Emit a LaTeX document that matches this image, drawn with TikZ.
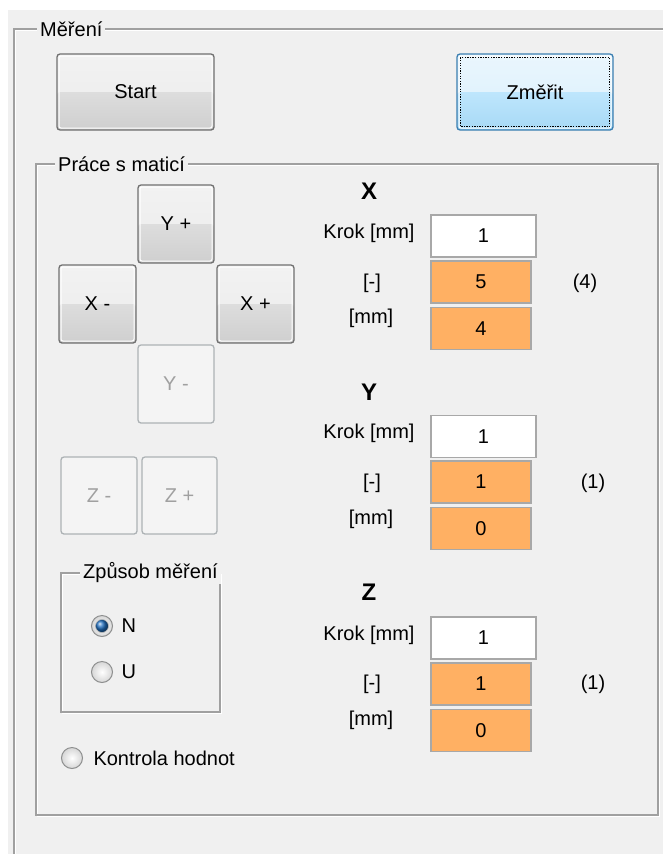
\documentclass[tikz,border=0pt]{standalone}
\usepackage{fontspec}
\setmainfont{Liberation Sans}
\usetikzlibrary{calc}
\definecolor{bg}{HTML}{F0F0F0}
\definecolor{etch}{HTML}{A0A0A0}
\definecolor{btnborder}{HTML}{707070}
\definecolor{disborder}{HTML}{ADB2B5}
\definecolor{distext}{HTML}{A0A0A0}
\definecolor{blueborder}{HTML}{3C7FB1}
\definecolor{fieldborder}{HTML}{A8A8A8}
\definecolor{orangefill}{HTML}{FFB063}
\definecolor{radioborder}{HTML}{8E8F8F}
\definecolor{radioblue}{HTML}{1F6FC0}
\definecolor{F4F4F4}{HTML}{F4F4F4}
\definecolor{D6D6D6}{HTML}{D6D6D6}
\definecolor{F2F2F2}{HTML}{F2F2F2}
\definecolor{EBEBEB}{HTML}{EBEBEB}
\definecolor{DDDDDD}{HTML}{DDDDDD}
\definecolor{CFCFCF}{HTML}{CFCFCF}
\definecolor{EAF6FD}{HTML}{EAF6FD}
\definecolor{D9F0FC}{HTML}{D9F0FC}
\definecolor{BEE6FD}{HTML}{BEE6FD}
\definecolor{A7D9F5}{HTML}{A7D9F5}
\tikzset{
  twotone/.style n args={4}{path picture={
    \shade[top color=#1,bottom color=#2] (path picture bounding box.north west) rectangle (path picture bounding box.east);
    \shade[top color=#3,bottom color=#4] (path picture bounding box.west) rectangle (path picture bounding box.south east);
    \draw[white,line width=1pt,rounded corners=2pt] ([shift={(2pt,-2pt)}]path picture bounding box.north west) rectangle ([shift={(-2pt,2pt)}]path picture bounding box.south east);
  }},
  btnbase/.style={rounded corners=3pt, line width=1.3pt, inner sep=0pt},
  btnon/.style={btnbase, draw=btnborder, twotone={F2F2F2}{EBEBEB}{DDDDDD}{CFCFCF}},
  btnblue/.style={btnbase, draw=blueborder, twotone={EAF6FD}{D9F0FC}{BEE6FD}{A7D9F5}},
  btnoff/.style={btnbase, draw=disborder, fill=F4F4F4, text=distext},
  field/.style={draw=fieldborder, line width=1.6pt, inner sep=0pt},
  wfield/.style={field, fill=white, minimum width=105pt, minimum height=42pt},
  ofield/.style={field, fill=orangefill, minimum width=100pt, minimum height=42pt},
  grplabel/.style={fill=bg, inner xsep=3pt, inner ysep=1pt, anchor=west},
  etchline/.style={draw=etch, line width=1.5pt},
  etchhi/.style={draw=white, line width=1pt},
  radio/.style={circle, draw=radioborder, line width=1pt, minimum size=21pt, inner sep=0pt, shade, inner color=white, outer color=D6D6D6},
  head/.style={font=\fontsize{24}{28}\selectfont\bfseries},
}
\begin{document}
\begin{tikzpicture}[x=1pt,y=-1pt,font=\fontsize{20}{24}\selectfont]
\useasboundingbox (0,0) rectangle (663,854);
\fill[white] (0,0) rectangle (663,854);
\fill[bg] (8,10) rectangle (663,854);

% outer group "Měření"
\draw[etchhi] (15.5,854) -- (15.5,30.5) -- (663,30.5);
\draw[etchline] (14,854) -- (14,29) -- (663,29);
\node[grplabel] (gMereni) at (37,29) {Měření};

% buttons Start / Změřit
\node[btnon, minimum width=157pt, minimum height=76pt] (bStart) at (135.5,92) {Start};
\node[btnblue, minimum width=156pt, minimum height=76pt] (bZmerit) at (535,92) {Změřit};
\draw[black, line width=1.3pt, dash pattern=on 1.3pt off 1.3pt]
  ([shift={(4pt,-4pt)}]bZmerit.north west) rectangle ([shift={(-4pt,4pt)}]bZmerit.south east);

% group "Práce s maticí"
\draw[etchhi] (37.5,165.5) rectangle (659.5,816.5);
\draw[etchline] (36,164) rectangle (658,815);
\node[grplabel] (gPrace) at (55,164) {Práce s maticí};

% direction buttons
\node[btnon, minimum width=76pt, minimum height=78pt] (bYp) at (176,224) {Y +};
\node[btnon, minimum width=77pt, minimum height=78pt] (bXm) at (97.5,304) {X -};
\node[btnon, minimum width=77pt, minimum height=78pt] (bXp) at (255.5,304) {X +};
\node[btnoff, minimum width=76pt, minimum height=78pt] (bYm) at (176,384) {Y -};
\node[btnoff, minimum width=76pt, minimum height=77pt] (bZm) at (99,495.5) {Z -};
\node[btnoff, minimum width=75pt, minimum height=77pt] (bZp) at (179.5,495.5) {Z +};

% group "Způsob měření"
\draw[etchhi] (62.5,574.5) rectangle (221.5,713.5);
\draw[etchline] (61,573) rectangle (220,712);
\node[grplabel] (gZpusob) at (80,573) {Způsob měření};

\node[radio] (rN) at (102,626) {};
\node[circle, minimum size=13pt, inner sep=0pt, draw=radioborder!60, line width=0.6pt, ball color=radioblue] (rNdot) at (rN) {};
\node[anchor=west] (tN) at (118,626) {N};
\node[radio] (rU) at (102,672) {};
\node[anchor=west] (tU) at (118,672) {U};

\node[radio] (rK) at (72,758) {};
\node[anchor=west] (tK) at (90,758) {Kontrola hodnot};

% X section
\node[head] (hX) at (369,191) {X};
\node (kX) at (369,233) {Krok [mm]};
\node[wfield] (fX1) at (483.5,236) {1};
\node (lX2) at (372,283) {[-]};
\node[ofield] (fX2) at (481,282) {5};
\node (pX) at (585,283) {(4)};
\node (lX3) at (371,318) {[mm]};
\node[ofield] (fX3) at (481,328.5) {4};

% Y section
\node[head] (hY) at (369,392) {Y};
\node (kY) at (369,433) {Krok [mm]};
\node[wfield] (fY1) at (483.5,436.5) {1};
\node (lY2) at (372,483) {[-]};
\node[ofield] (fY2) at (481,482) {1};
\node (pY) at (593,483) {(1)};
\node (lY3) at (371,519) {[mm]};
\node[ofield] (fY3) at (481,528.5) {0};

% Z section
\node[head] (hZ) at (369,592) {Z};
\node (kZ) at (369,635) {Krok [mm]};
\node[wfield] (fZ1) at (483.5,638) {1};
\node (lZ2) at (372,684) {[-]};
\node[ofield] (fZ2) at (481,684) {1};
\node (pZ) at (593,684) {(1)};
\node (lZ3) at (371,720) {[mm]};
\node[ofield] (fZ3) at (481,730.5) {0};
\end{tikzpicture}
\end{document}
